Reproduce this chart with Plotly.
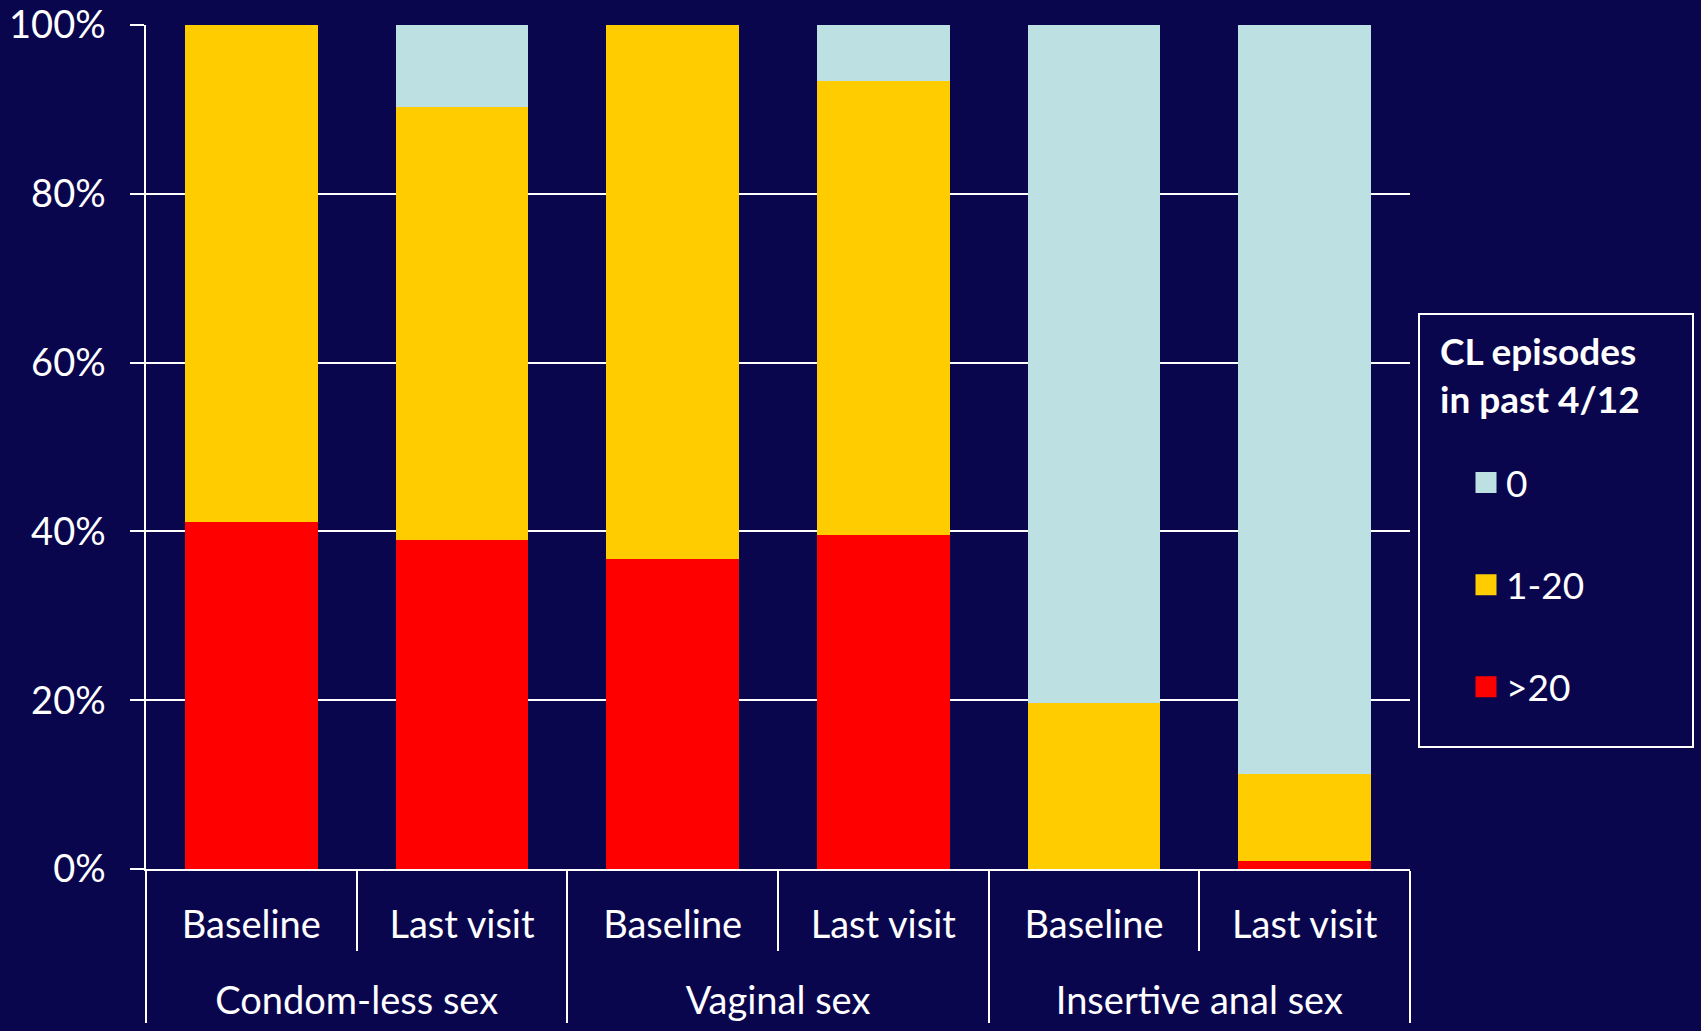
import plotly.graph_objects as go

# Survey groups (outer) and visits (inner)
groups = ["Condom-less sex", "Condom-less sex", "Vaginal sex", "Vaginal sex",
          "Insertive anal sex", "Insertive anal sex"]
visits = ["Baseline", "Last visit", "Baseline", "Last visit", "Baseline", "Last visit"]

# Share of participants (%) by number of condom-less episodes
over_20 = [41.1, 39.0, 36.7, 39.6, 0.0, 1.0]
one_to_20 = [58.9, 51.3, 63.3, 53.8, 19.7, 10.2]
zero = [0.0, 9.7, 0.0, 6.6, 80.3, 88.8]

y_ticks = [0, 20, 40, 60, 80, 100]
y_tick_text = ["0%", "20%", "40%", "60%", "80%", "100%"]

series = [
    (">20", over_20, "#FF0000"),
    ("1-20", one_to_20, "#FFCC00"),
    ("0", zero, "#BDE0E3"),
]

legend_title = "<b>CL episodes<br>in past 4/12</b>"

BG = "#0A064E"
FONT = "Lato"

# Plot area in pixels
L, R, T, B = 146, 291, 25, 162
W, H = 1701, 1031
PW, PH = W - L - R, H - T - B


def px_x(x):
    return (x - L) / PW


def px_y(y):
    return (H - B - y) / PH


fig = go.Figure()
for name, vals, color in series:
    fig.add_trace(go.Bar(
        x=[["<br>" + g for g in groups], visits], y=vals, name=name,
        marker=dict(color=color, line=dict(width=0)),
        showlegend=False,
    ))

# Legend entries with large square swatches, top to bottom
for i, (name, vals, color) in enumerate(reversed(series)):
    fig.add_trace(go.Scatter(
        x=[None], y=[None], mode="markers", name=name,
        marker=dict(symbol="square", size=16, color=color,
                    line=dict(color=color, width=5)),
        legendgroup=f"g{i}", showlegend=True,
    ))

fig.update_layout(
    width=W, height=H,
    paper_bgcolor=BG, plot_bgcolor=BG,
    margin=dict(l=L, r=R, t=T, b=B, autoexpand=False),
    barmode="stack", bargap=0.37,
    font=dict(family=FONT, color="white", size=37),
    legend=dict(
        font=dict(size=37, color="white"),
        bgcolor="rgba(0,0,0,0)", borderwidth=0,
        x=px_x(1466), xanchor="left", y=px_y(452), yanchor="top",
        tracegroupgap=51, traceorder="grouped",
        itemwidth=30,
    ),
    showlegend=True,
    shapes=[dict(
        type="rect", xref="paper", yref="paper",
        x0=px_x(1419), x1=px_x(1693), y0=px_y(747), y1=px_y(314),
        line=dict(color="white", width=2), fillcolor="rgba(0,0,0,0)",
    )],
    annotations=[dict(
        text=legend_title, xref="paper", yref="paper",
        x=px_x(1438), y=px_y(374), xanchor="left", yanchor="middle",
        align="left", showarrow=False,
        font=dict(size=37, color="white", family=FONT),
    )],
)

fig.update_yaxes(
    range=[0, 100], tickmode="array", tickvals=y_ticks, ticktext=y_tick_text,
    showgrid=True, gridcolor="white", gridwidth=1.5,
    ticks="outside", ticklen=14, tickcolor="white", tickwidth=1.5,
    showline=True, linecolor="white", linewidth=1.5,
    tickfont=dict(size=38, color="white"), ticklabelstandoff=17,
    zeroline=False, automargin=False,
)
fig.update_xaxes(
    type="multicategory",
    showline=True, linecolor="white", linewidth=1.5,
    ticks="outside", ticklen=80, tickcolor="white", tickwidth=1.5,
    tickson="boundaries",
    showdividers=True, dividercolor="white", dividerwidth=1.5,
    tickfont=dict(size=38, color="white"), ticklabelstandoff=22,
    showgrid=False, automargin=False,
)

fig.write_html("out.html")
